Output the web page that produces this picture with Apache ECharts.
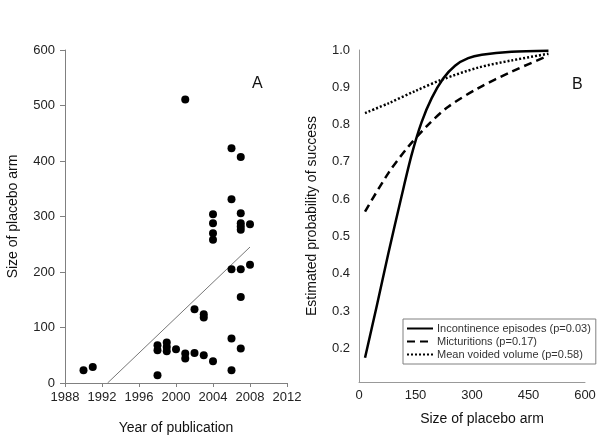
<!DOCTYPE html>
<html><head><meta charset="utf-8">
<script src="https://cdn.jsdelivr.net/npm/echarts@6/dist/echarts.min.js"></script>
<style>html,body{margin:0;padding:0;background:#fff}#c{width:600px;height:440px}</style>
</head><body><div id="c"></div>
<script>
// Panel A: trials
const pubYears = [1990, 1991, 1998, 1998, 1998, 1999, 1999, 1999, 2000, 2001, 2001, 2001,
  2002, 2002, 2003, 2003, 2003, 2004, 2004, 2004, 2004, 2004,
  2006, 2006, 2006, 2006, 2006, 2007, 2007, 2007, 2007, 2007, 2007, 2007, 2007, 2008, 2008];
const armSizes = [23, 29, 14, 59, 68, 57, 65, 73, 61, 44, 53, 511,
  54, 133, 50, 118, 124, 39, 258, 270, 288, 304,
  23, 80, 205, 331, 423, 62, 155, 205, 276, 282, 288, 306, 407, 213, 286];
const trendYears = [1992.6, 2008];
const trendSizes = [0, 245];

// Panel B: estimated probability of success vs size of placebo arm
const incontinenceX = [16, 47, 78, 113, 140, 166, 193, 224, 255, 290, 326, 405, 503];
const incontinenceP = [0.175, 0.313, 0.455, 0.608, 0.72, 0.806, 0.871, 0.924, 0.958, 0.978, 0.987, 0.995, 0.998];
const micturitionX = [16, 78, 131, 184, 237, 317, 405, 503];
const micturitionP = [0.567, 0.67, 0.741, 0.80, 0.848, 0.898, 0.942, 0.985];
const voidedX = [16, 78, 149, 224, 317, 405, 503];
const voidedP = [0.831, 0.857, 0.89, 0.922, 0.953, 0.972, 0.99];

const seriesNames = ['Incontinence episodes (p=0.03)', 'Micturitions (p=0.17)', 'Mean voided volume (p=0.58)'];
const probTicks = [0.2, 0.3, 0.4, 0.5, 0.6, 0.7, 0.8, 0.9, 1.0];

const zip = (a, b) => a.map((v, i) => [v, b[i]]);
const FONT = '"Liberation Sans", Arial, sans-serif';

const chart = echarts.init(document.getElementById('c'), null, {renderer: 'canvas'});
chart.setOption({
  animation: false,
  backgroundColor: '#fff',
  textStyle: {fontFamily: FONT},
  grid: [
    {left: 65, right: 313, top: 50, bottom: 57},
    {left: 359, right: 15, top: 50, bottom: 58}
  ],
  xAxis: [
    {gridIndex: 0, type: 'value', min: 1988, max: 2012, interval: 4,
      name: 'Year of publication', nameLocation: 'middle', nameGap: 38,
      nameTextStyle: {fontSize: 14, color: '#111', fontFamily: FONT},
      axisLine: {lineStyle: {color: '#808080', width: 1}},
      axisTick: {show: true, length: 4, lineStyle: {color: '#808080'}},
      axisLabel: {fontSize: 13, color: '#222', margin: 8, fontFamily: FONT, formatter: v => String(v)},
      splitLine: {show: false}},
    {gridIndex: 1, type: 'value', min: 0, max: 600, interval: 150,
      name: 'Size of placebo arm', nameLocation: 'middle', nameGap: 30,
      nameTextStyle: {fontSize: 14, color: '#111', fontFamily: FONT, padding: [0, 0, 0, 20]},
      axisLine: {lineStyle: {color: '#999', width: 1}},
      axisTick: {show: false},
      axisLabel: {fontSize: 13, color: '#222', margin: 7, fontFamily: FONT, formatter: v => String(v)},
      splitLine: {show: false}}
  ],
  yAxis: [
    {gridIndex: 0, type: 'value', min: 0, max: 600, interval: 100,
      name: 'Size of placebo arm', nameLocation: 'middle', nameGap: 45,
      nameTextStyle: {fontSize: 14, color: '#111', fontFamily: FONT},
      axisLine: {show: true, lineStyle: {color: '#808080', width: 1}},
      axisTick: {show: true, length: 5, lineStyle: {color: '#808080'}},
      axisLabel: {fontSize: 13, color: '#222', margin: 10, fontFamily: FONT},
      splitLine: {show: false}},
    {gridIndex: 1, type: 'value', min: 0.11, max: 1.0,
      name: 'Estimated probability of success', nameLocation: 'middle', nameGap: 40,
      nameTextStyle: {fontSize: 14, color: '#111', fontFamily: FONT},
      axisLine: {show: true, lineStyle: {color: '#999', width: 1}},
      axisTick: {show: false},
      axisLabel: {fontSize: 13, color: '#222', margin: 9, fontFamily: FONT,
        customValues: probTicks, formatter: v => v.toFixed(1)},
      splitLine: {show: false}}
  ],
  legend: {
    data: seriesNames,
    orient: 'vertical', left: 403, top: 319,
    width: 190,
    padding: [4, 5, 4, 3], itemGap: 2, itemWidth: 26, itemHeight: 11,
    borderColor: '#808080', borderWidth: 1,
    itemStyle: {opacity: 0},
    textStyle: {fontSize: 11, color: '#333', fontFamily: FONT, padding: [0, 0, 0, -1]},
    selectedMode: false
  },
  graphic: [
    {type: 'text', left: 252, top: 76, style: {text: 'A', font: '16px ' + FONT, fill: '#111'}},
    {type: 'text', left: 572, top: 77, style: {text: 'B', font: '16px ' + FONT, fill: '#111'}}
  ],
  series: [
    {type: 'line', xAxisIndex: 0, yAxisIndex: 0, data: zip(trendYears, trendSizes),
      symbol: 'none', lineStyle: {color: '#777', width: 1}, silent: true, z: 1},
    {type: 'scatter', xAxisIndex: 0, yAxisIndex: 0, data: zip(pubYears, armSizes),
      symbol: 'circle', symbolSize: 8, itemStyle: {color: '#000', opacity: 1}, z: 3},
    {name: seriesNames[0], type: 'line', xAxisIndex: 1, yAxisIndex: 1,
      data: zip(incontinenceX, incontinenceP), smooth: 0.3, symbol: 'none',
      lineStyle: {color: '#000', width: 2.5, type: 'solid'}, itemStyle: {color: '#000'}},
    {name: seriesNames[1], type: 'line', xAxisIndex: 1, yAxisIndex: 1,
      data: zip(micturitionX, micturitionP), smooth: 0.3, symbol: 'none',
      lineStyle: {color: '#000', width: 2.5, type: [8, 5]}, itemStyle: {color: '#000'}},
    {name: seriesNames[2], type: 'line', xAxisIndex: 1, yAxisIndex: 1,
      data: zip(voidedX, voidedP), smooth: 0.3, symbol: 'none',
      lineStyle: {color: '#000', width: 2.5, type: [2, 2]}, itemStyle: {color: '#000'}}
  ]
});
</script>
</body></html>
